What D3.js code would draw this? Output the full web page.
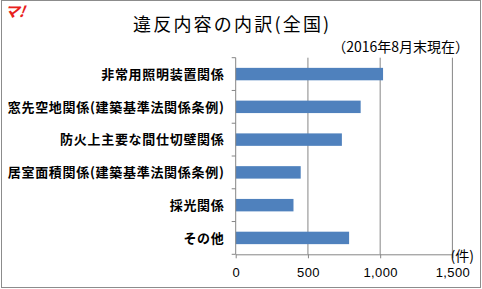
<html>
<head>
<meta charset="utf-8">
<style>
  body { margin: 0; background: #fff; }
  text { font-family: "Noto Sans CJK JP", sans-serif; }
</style>
</head>
<body>
<svg id="mainSvg" width="482" height="289"></svg>
<script src="https://d3js.org/d3.v7.min.js"></script>
<script>
// data
const categories = ['非常用照明装置関係', '窓先空地関係(建築基準法関係条例)', '防火上主要な間仕切壁関係',
  '居室面積関係(建築基準法関係条例)', '採光関係', 'その他']
const counts = [1020, 865, 735, 450, 400, 785]
const xTicks = [0, 500, 1000, 1500]

const svg = d3.select('#mainSvg')
const margin = {top: 57.7, left: 235.7, right: 29.6, bottom: 34.7}
const W = 482, H = 289

// frame
svg.append('rect').attr('x', 1.5).attr('y', 0.5).attr('width', W - 3).attr('height', H - 2)
  .attr('fill', '#fff').attr('stroke', '#8c8c8c').attr('stroke-width', 1)

// logo
svg.append('text').attr('x', 4).attr('y', 17).text('マ!')
  .attr('fill', '#e8211c').attr('font-size', 15).attr('font-weight', 'bold')
  .attr('font-style', 'italic').attr('transform', 'skewX(-8) translate(2,0)')

// title
svg.append('text').attr('x', 133).attr('y', 31)
  .attr('font-size', 18).attr('letter-spacing', 2.2).attr('fill', '#000').text('違反内容の内訳(全国)')
svg.append('text').attr('x', 469).attr('y', 52).attr('text-anchor', 'end')
  .attr('font-size', 14).attr('fill', '#000').text('（2016年8月末現在）')

const xScale = d3.scaleLinear().domain([0, 1500]).range([margin.left, W - margin.right])
const yScale = d3.scaleBand().domain(categories).range([margin.top, H - margin.bottom]).paddingInner(0.62).paddingOuter(0.31)

// gridlines
svg.append('g').selectAll('line').data(xTicks.slice(1)).enter().append('line')
  .attr('x1', d => xScale(d)).attr('x2', d => xScale(d))
  .attr('y1', margin.top).attr('y2', H - margin.bottom)
  .attr('stroke', '#868686').attr('stroke-width', 1)

// bars
svg.append('g').selectAll('rect').data(categories).enter().append('rect')
  .attr('x', xScale(0)).attr('y', d => yScale(d))
  .attr('width', (d, i) => xScale(counts[i]) - xScale(0))
  .attr('height', yScale.bandwidth())
  .attr('fill', '#4f81bd')

// x axis
const xAxis = svg.append('g').attr('transform', `translate(0, ${H - margin.bottom})`)
  .call(d3.axisBottom(xScale).tickValues(xTicks).tickSize(4).tickSizeOuter(0).tickPadding(9)
    .tickFormat(d3.format(',')))
xAxis.selectAll('path, line').attr('stroke', '#868686')
xAxis.selectAll('text').attr('font-size', 13).attr('fill', '#000').attr('letter-spacing', 0.4)
  .style('font-family', '"Liberation Sans", sans-serif')

// y axis (ticks at band boundaries)
const bounds = d3.range(categories.length + 1).map(i => margin.top + i * (H - margin.top - margin.bottom) / categories.length)
svg.append('line').attr('x1', margin.left).attr('x2', margin.left)
  .attr('y1', margin.top).attr('y2', H - margin.bottom).attr('stroke', '#868686')
svg.append('g').selectAll('line').data(bounds).enter().append('line')
  .attr('x1', margin.left - 4).attr('x2', margin.left).attr('y1', d => d).attr('y2', d => d)
  .attr('stroke', '#868686')

// category labels
svg.append('g').selectAll('text').data(categories).enter().append('text')
  .attr('x', 224.5).attr('y', d => yScale(d) + yScale.bandwidth() / 2)
  .attr('dy', '0.36em').attr('text-anchor', 'end')
  .attr('font-size', 13).attr('letter-spacing', 0.7).attr('font-weight', 'bold').attr('fill', '#000')
  .text(d => d)

// unit
svg.append('text').attr('x', 474).attr('y', 261).attr('text-anchor', 'end')
  .attr('font-size', 14).attr('fill', '#000').text('(件)')
</script>
</body>
</html>
